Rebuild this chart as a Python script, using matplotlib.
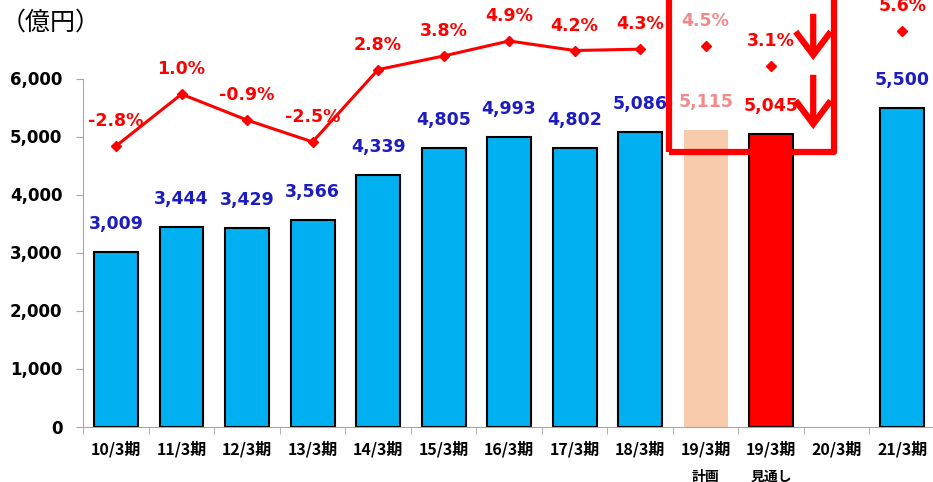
import numpy as np
import matplotlib
matplotlib.use("Agg")
import matplotlib.pyplot as plt
from matplotlib.patches import Rectangle, FancyArrowPatch

categories = ['10/3期', '11/3期', '12/3期', '13/3期', '14/3期', '15/3期', '16/3期',
              '17/3期', '18/3期', '19/3期', '19/3期', '20/3期', '21/3期']
sublabels = ['', '', '', '', '', '', '', '', '', '計画', '見通し', '', '']
sales = [3009, 3444, 3429, 3566, 4339, 4805, 4993, 4802, 5086, 5115, 5045, np.nan, 5500]
growth = [-2.8, 1.0, -0.9, -2.5, 2.8, 3.8, 4.9, 4.2, 4.3, 4.5, 3.1, np.nan, 5.6]
yticks = [0, 1000, 2000, 3000, 4000, 5000, 6000]

CJK = ['Noto Sans CJK JP', 'DejaVu Sans']
BLUE = '#00b0f0'
PLAN = '#f8cbad'
RED = '#ff0000'
NAVY = '#1c1cc0'
PINK = '#f38a8a'
GREY = '#a6a6a6'

fig = plt.figure(figsize=(9.33, 4.82), dpi=100)
W, H = 933, 482
left_px, zero_px, right_px = 83.25, 426.5, 935
PXV = 0.058  # pixels per unit of sales
ax = fig.add_axes([left_px / W, (H - zero_px) / H, (right_px - left_px) / W, zero_px / H])
ax2 = ax.twinx()

n = len(categories)
x = np.arange(n)
colors = [BLUE] * n
colors[9] = PLAN
colors[10] = RED
edges = ['black'] * n
edges[9] = 'none'
lws = [1.5] * n
lws[9] = 0

ax.bar(x, sales, width=0.67, color=colors, edgecolor=edges, linewidth=lws, zorder=2)

for i, v in enumerate(sales):
    if np.isnan(v):
        continue
    c = NAVY
    if i == 9:
        c = PINK
    elif i == 10:
        c = RED
    ax.annotate(f'{int(v):,}', xy=(i, v), xytext=(0, 28), textcoords='offset pixels',
                ha='center', va='center', fontsize=12.5, fontweight='bold', color=c,
                family='DejaVu Sans', annotation_clip=False, zorder=5)

# growth line on secondary axis
zero_g = 107.8
scale_g = 13.64
ax2.set_ylim((zero_g - zero_px) / scale_g, zero_g / scale_g)
ax2.plot(x[:9], growth[:9], color=RED, lw=2.2, marker='D', markersize=5, zorder=3)
ax2.plot([x[9], x[10], x[12]], [growth[9], growth[10], growth[12]], ls='none',
         color=RED, marker='D', markersize=5, zorder=3)
for i, v in enumerate(growth):
    if np.isnan(v):
        continue
    c = PINK if i == 9 else RED
    ax2.annotate(f'{v:.1f}%', xy=(i, v), xytext=(0, 25), textcoords='offset pixels',
                 ha='center', va='center', fontsize=12.5, fontweight='bold', color=c,
                 family='DejaVu Sans', annotation_clip=False, zorder=5)
ax2.axis('off')

# axes styling
for s in ['top', 'right']:
    ax.spines[s].set_visible(False)
ax.spines['left'].set_color(GREY)
ax.spines['bottom'].set_color(GREY)
ax.spines['left'].set_bounds(0, 6000)
ax.set_yticks(yticks)
ax.set_yticklabels([f'{t:,}' for t in yticks], fontsize=12, fontweight='bold',
                   family='DejaVu Sans')
ax.tick_params(axis='y', length=5, color=GREY, pad=10)
ax.set_xticks(x)
ax.set_xticklabels([])
ax.tick_params(axis='x', which='major', length=0)
ax.set_xticks(np.arange(-0.5, n, 1.0), minor=True)
ax.tick_params(axis='x', which='minor', length=5, color=GREY)
ax.set_xlim(-0.5, n - 0.5)
ax.set_ylim(0, zero_px / PXV)

for i, lab in enumerate(categories):
    ax.annotate(lab, xy=(i, 0), xycoords=('data', 'axes fraction'), xytext=(0, -23),
                textcoords='offset pixels', ha='center', va='center', fontsize=11.5,
                fontweight='bold', family=CJK, annotation_clip=False)
    if sublabels[i]:
        ax.annotate(sublabels[i], xy=(i, 0), xycoords=('data', 'axes fraction'),
                    xytext=(0, -50), textcoords='offset pixels', ha='center', va='center',
                    fontsize=10, fontweight='bold', family=CJK, annotation_clip=False)

fig.text(0.5 / W, 1 - 23 / H, '（億円）', ha='left', va='center', fontsize=18,
         family=CJK)

# red highlight frame
slot = 65.5
def px_to_x(px):
    return (px - 116) / slot
def py_to_y(py):
    return (zero_px - py) / PXV

fx0, fx1 = px_to_x(669), px_to_x(834)
fy0 = py_to_y(152)
rect = Rectangle((fx0, fy0), fx1 - fx0, py_to_y(-20) - fy0, fill=False, edgecolor=RED,
                 lw=4.5, clip_on=False, zorder=6, joinstyle='round')
ax.add_patch(rect)

ax_x = px_to_x(813)
for (p0, p1) in [(11, 63), (72, 132)]:
    arr = FancyArrowPatch((ax_x, py_to_y(p0)), (ax_x, py_to_y(p1)),
                          arrowstyle='->, head_length=0.6, head_width=0.45',
                          mutation_scale=28, lw=4.5, color=RED, clip_on=False, zorder=6,
                          capstyle='butt', joinstyle='miter')
    ax.add_patch(arr)

fig.savefig('out.png', dpi=100)
